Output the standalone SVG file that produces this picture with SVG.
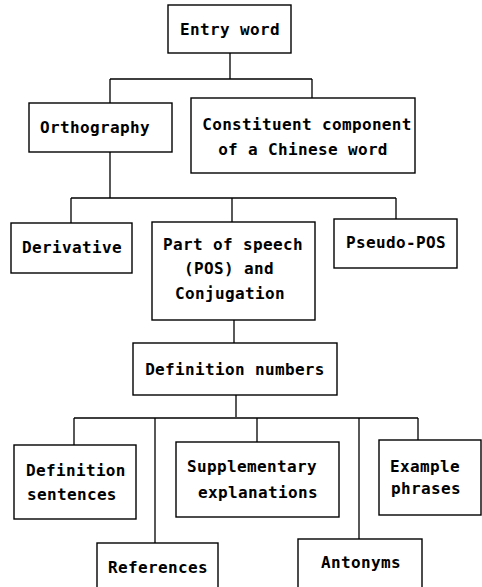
<svg xmlns="http://www.w3.org/2000/svg" width="482" height="587" viewBox="0 0 482 587">
<style>
rect{fill:#fff;stroke:#000;stroke-width:1.4}
.c path{fill:none;stroke:#000;stroke-width:1.3}
text{font-family:"DejaVu Sans Mono","Liberation Mono",monospace;font-weight:bold;font-size:16px;letter-spacing:0.35px;fill:#000;text-anchor:middle}
.l{text-anchor:start}
</style>
<rect x="0" y="0" width="482" height="587" style="stroke:none"/>
<g class="c" id="connectors">
<path d="M230 53V79M110 79H312M110 79V103M312 79V98"/>
<path d="M110 152V198M71 198H396M71 198V223M232 198V222M396 198V219"/>
<path d="M234 320V343"/>
<path d="M236 395V417M74 418H418M74 418V445M155 418V543M257 418V442M359 418V539M418 418V440"/>
</g>
<g id="entry"><rect x="168" y="5" width="123" height="48"/><text x="230" y="35">Entry word</text></g>
<g id="orthography"><rect x="29" y="103" width="143" height="49"/><text x="95" y="133">Orthography</text></g>
<g id="constituent"><rect x="191" y="98" width="224" height="75"/><text x="307" y="130">Constituent component</text><text x="303" y="155">of a Chinese word</text></g>
<g id="derivative"><rect x="11" y="223" width="121" height="50"/><text x="72" y="253">Derivative</text></g>
<g id="pos"><rect x="152" y="222" width="163" height="98"/><text x="233" y="250">Part of speech</text><text x="229" y="274">(POS) and</text><text x="230" y="299">Conjugation</text></g>
<g id="pseudo"><rect x="334" y="219" width="123" height="49"/><text x="396" y="248">Pseudo-POS</text></g>
<g id="defnum"><rect x="133" y="343" width="204" height="52"/><text x="235" y="375">Definition numbers</text></g>
<g id="defsent"><rect x="14" y="445" width="122" height="74"/><text class="l" x="26" y="476">Definition</text><text class="l" x="27" y="500">sentences</text></g>
<g id="supp"><rect x="176" y="442" width="163" height="75"/><text x="252" y="472">Supplementary</text><text x="258" y="498">explanations</text></g>
<g id="example"><rect x="379" y="440" width="102" height="75"/><text class="l" x="390" y="472">Example</text><text class="l" x="391" y="494">phrases</text></g>
<g id="references"><rect x="97" y="543" width="121" height="60"/><text x="158" y="573">References</text></g>
<g id="antonyms"><rect x="298" y="539" width="124" height="60"/><text x="361" y="568">Antonyms</text></g>
</svg>
